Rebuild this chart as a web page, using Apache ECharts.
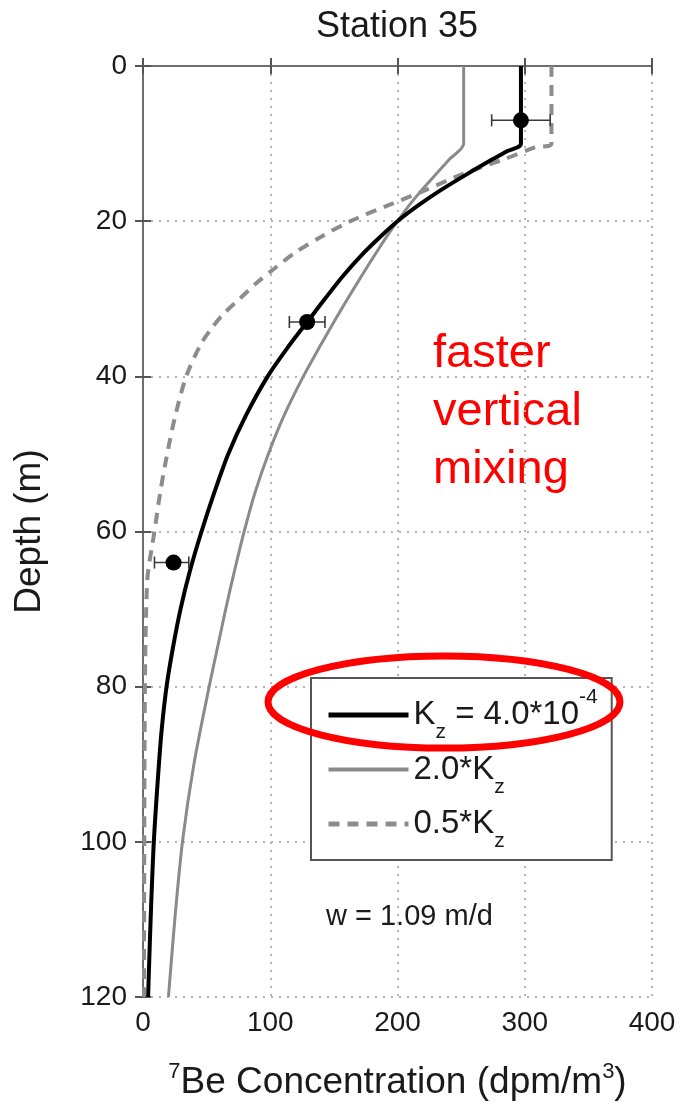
<!DOCTYPE html>
<html>
<head>
<meta charset="utf-8">
<title>Station 35</title>
<script src="https://cdn.jsdelivr.net/npm/echarts@6/dist/echarts.min.js"></script>
<style>
    html, body { margin: 0; padding: 0; background: #fff; }
    #main { width: 683px; height: 1116px; }
</style>
</head>
<body>
<div id="main"></div>
<script>
// model profiles (depth in m, 7Be in dpm/m3)
var kzDepth = [0, 10, 11, 12, 14, 16, 18, 20, 22, 24, 27, 30, 33, 36, 40, 45, 50, 55, 60, 65, 70, 75, 80, 85, 90, 100, 110, 120];
var kzConc = [297, 297, 286, 275, 254, 234, 216, 200, 186.5, 174, 157.5, 143, 129, 115, 98, 81, 67, 56, 46, 37, 29.5, 23.5, 18.5, 15, 12.5, 8.5, 6, 4];

var kz2Depth = [0, 10, 12, 14, 16, 18, 20, 22, 24, 27, 30, 33, 36, 40, 45, 50, 55, 60, 65, 70, 75, 80, 90, 100, 110, 120];
var kz2Conc = [252, 252, 241, 230, 219, 209, 200, 191.5, 183.5, 172, 160.8, 150, 139.5, 126, 111, 98.5, 88, 79.5, 72, 65, 58.5, 52, 40, 31, 25, 20];

var kzHalfDepth = [0, 10, 10.5, 12, 14, 16, 18, 20, 22, 24, 26, 28, 30, 32, 34, 36, 40, 45, 50, 55, 60, 62, 64, 66, 70, 80, 100, 120];
var kzHalfConc = [321, 321, 308, 284, 250, 222, 192, 163, 140, 120, 104, 89, 76, 63, 53, 45, 34, 25.5, 19, 13.5, 9, 7, 5, 3.5, 2.5, 1.5, 1, 0.8];

// measured 7Be with error bars
var obsDepth = [7, 33, 64];
var obsConc = [297, 129, 24];
var obsLow = [274, 115, 9];
var obsHigh = [320, 143, 36];

var legendNames = ['Kz = 4.0*10^-4', '2.0*Kz', '0.5*Kz'];
var legendLabels = [
    '{t|K}{sub|z}{t| = 4.0*10}{sup|-4}',
    '{t|2.0*K}{sub|z}',
    '{t|0.5*K}{sub|z}'
];

var FONT = 'Liberation Sans, Arial, Helvetica, sans-serif';
var myChart;

function pairs(conc, depth) {
    var out = [];
    for (var i = 0; i < depth.length; i++) {
        out.push([conc[i], depth[i]]);
    }
    return out;
}

function initChart() {
    myChart = echarts.init(document.getElementById('main'), null, {renderer: 'canvas'});

    var errData = [];
    for (var i = 0; i < obsDepth.length; i++) {
        errData.push([obsLow[i], obsHigh[i], obsDepth[i]]);
    }

    var axisLineStyle = {color: '#6e6e6e', width: 2};
    var tickStyle = {show: true, inside: true, length: 8, lineStyle: {color: '#555', width: 2}};
    var gridLine = {show: true, lineStyle: {color: '#b4b4b4', width: 2, type: [2, 6]}};

    var option = {
        backgroundColor: '#fff',
        animation: false,
        grid: {left: 143, right: 31, top: 66, bottom: 119},
        legend: {
            orient: 'vertical',
            left: 311,
            top: 678,
            data: [
                {name: legendNames[0], itemStyle: {opacity: 0}, lineStyle: {width: 5}},
                {name: legendNames[1], itemStyle: {opacity: 0}, lineStyle: {width: 4}},
                {name: legendNames[2], itemStyle: {opacity: 0}, lineStyle: {width: 5}}
            ],
            itemWidth: 80,
            itemHeight: 14,
            itemGap: 10,
            padding: [9, 14, 8, 15],
            borderColor: '#555',
            borderWidth: 2,
            backgroundColor: '#fff',
            selectedMode: false,
            formatter: function (name) {
                return legendLabels[legendNames.indexOf(name)];
            },
            textStyle: {
                color: '#1a1a1a',
                fontFamily: FONT,
                rich: {
                    t: {fontSize: 33, lineHeight: 56, fontFamily: FONT, color: '#1a1a1a'},
                    sub: {fontSize: 21, lineHeight: 21, verticalAlign: 'bottom', fontFamily: FONT, color: '#1a1a1a'},
                    sup: {fontSize: 21, lineHeight: 34, verticalAlign: 'top', fontFamily: FONT, color: '#1a1a1a'}
                }
            }
        },
        xAxis: [{
            type: 'value',
            min: 0,
            max: 400,
            interval: 100,
            position: 'bottom',
            axisLine: {show: true, lineStyle: axisLineStyle},
            axisTick: tickStyle,
            splitLine: gridLine,
            axisLabel: {fontSize: 28, color: '#1a1a1a', fontFamily: FONT, margin: 12},
            name: '{sup|7}{n|Be Concentration (dpm/m}{sup|3}{n|)}',
            nameLocation: 'middle',
            nameGap: 64,
            nameTextStyle: {
                rich: {
                    n: {fontSize: 37, lineHeight: 44, fontFamily: FONT, color: '#1a1a1a'},
                    sup: {fontSize: 22, lineHeight: 26, verticalAlign: 'top', fontFamily: FONT, color: '#1a1a1a'}
                }
            }
        }, {
            type: 'value',
            min: 0,
            max: 400,
            interval: 100,
            position: 'top',
            axisLine: {show: true, lineStyle: axisLineStyle},
            axisTick: tickStyle,
            splitLine: {show: false},
            axisLabel: {show: false}
        }],
        yAxis: [{
            type: 'value',
            inverse: true,
            min: 0,
            max: 120,
            interval: 20,
            position: 'left',
            axisLine: {show: true, lineStyle: axisLineStyle},
            axisTick: tickStyle,
            splitLine: gridLine,
            axisLabel: {fontSize: 28, color: '#1a1a1a', fontFamily: FONT, margin: 16},
            name: 'Depth (m)',
            nameLocation: 'middle',
            nameGap: 95,
            nameTextStyle: {fontSize: 37, color: '#1a1a1a', fontFamily: FONT}
        }, {
            type: 'value',
            inverse: true,
            min: 0,
            max: 120,
            interval: 20,
            position: 'right',
            axisLine: {show: true, lineStyle: axisLineStyle},
            axisTick: tickStyle,
            splitLine: {show: false},
            axisLabel: {show: false}
        }],
        series: [{
            name: '2.0*Kz',
            type: 'line',
            symbol: 'none',
            smooth: 0.3,
            data: pairs(kz2Conc, kz2Depth),
            lineStyle: {color: '#8a8a8a', width: 3},
            itemStyle: {color: '#8a8a8a'},
            z: 2
        }, {
            name: '0.5*Kz',
            type: 'line',
            symbol: 'none',
            smooth: 0.3,
            data: pairs(kzHalfConc, kzHalfDepth),
            lineStyle: {color: '#8c8c8c', width: 4, type: [11, 8]},
            itemStyle: {color: '#8c8c8c'},
            z: 2
        }, {
            name: 'Kz = 4.0*10^-4',
            type: 'line',
            symbol: 'none',
            smooth: 0.3,
            data: pairs(kzConc, kzDepth),
            lineStyle: {color: '#000', width: 4},
            itemStyle: {color: '#000'},
            z: 3
        }, {
            name: 'errors',
            type: 'custom',
            data: errData,
            encode: {x: [0, 1], y: 2},
            z: 4,
            renderItem: function (params, api) {
                var lo = api.coord([api.value(0), api.value(2)]);
                var hi = api.coord([api.value(1), api.value(2)]);
                var cap = 6;
                var st = {stroke: '#3a3a3a', lineWidth: 1.6};
                return {
                    type: 'group',
                    children: [
                        {type: 'line', shape: {x1: lo[0], y1: lo[1], x2: hi[0], y2: hi[1]}, style: st},
                        {type: 'line', shape: {x1: lo[0], y1: lo[1] - cap, x2: lo[0], y2: lo[1] + cap}, style: st},
                        {type: 'line', shape: {x1: hi[0], y1: hi[1] - cap, x2: hi[0], y2: hi[1] + cap}, style: st}
                    ]
                };
            }
        }, {
            name: 'observed',
            type: 'scatter',
            data: pairs(obsConc, obsDepth),
            symbol: 'circle',
            symbolSize: 16,
            itemStyle: {color: '#000', opacity: 1},
            z: 5
        }],
        graphic: [{
            type: 'text',
            x: 397,
            y: 27,
            style: {text: 'Station 35', fontSize: 36, fontFamily: FONT, fill: '#1a1a1a', align: 'center', verticalAlign: 'middle'}
        }, {
            type: 'text',
            x: 433,
            y: 325,
            style: {text: 'faster\nvertical\nmixing', fontSize: 47, lineHeight: 58, fontFamily: FONT, fill: '#ff0000', align: 'left', verticalAlign: 'top'}
        }, {
            type: 'text',
            x: 326,
            y: 917,
            style: {text: 'w = 1.09 m/d', fontSize: 29, fontFamily: FONT, fill: '#1a1a1a', align: 'left', verticalAlign: 'middle'}
        }, {
            type: 'ellipse',
            shape: {cx: 444, cy: 702, rx: 176, ry: 46},
            style: {fill: 'none', stroke: '#ff0000', lineWidth: 7},
            z: 100
        }]
    };
    myChart.setOption(option);
}

initChart();
</script>
</body>
</html>
